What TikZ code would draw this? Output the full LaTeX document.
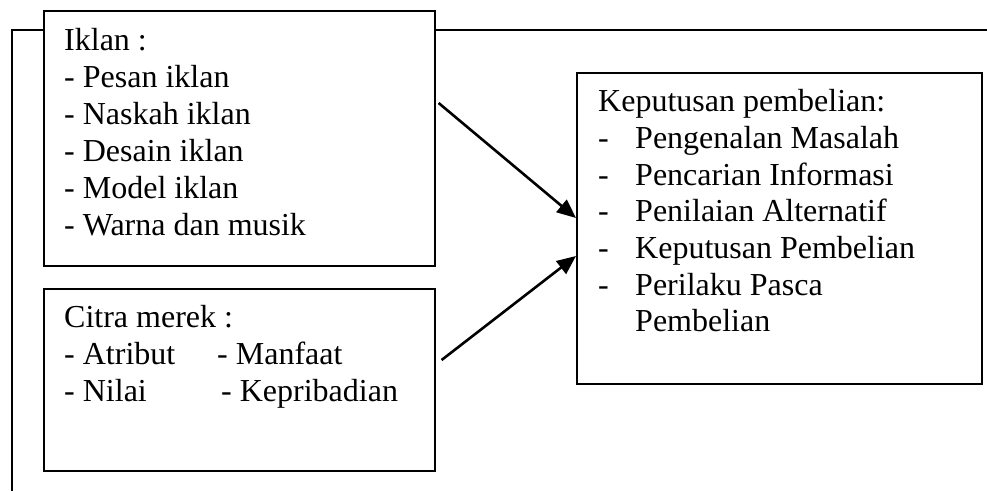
\documentclass[tikz,border=0pt]{standalone}
\usepackage{fontspec}
\setmainfont{Liberation Serif}
\usetikzlibrary{arrows.meta}
\begin{document}
\begin{tikzpicture}[x=1pt,y=-1pt,
  box/.style={draw, line width=1.6pt, inner sep=0pt, anchor=north west},
  txt/.style={anchor=base west, inner sep=0pt, font=\fontsize{32}{37}\selectfont},
  frameline/.style={line width=1.6pt},
  arr/.style={line width=2.6pt, -{Triangle[length=19pt,width=16pt]}}]
\useasboundingbox (0,0) rectangle (987,491);
% boxes
\node[box, minimum width=391pt, minimum height=255pt] (iklan) at (43,10) {};
\node[box, minimum width=391pt, minimum height=182pt] (citra) at (43,288) {};
\node[box, minimum width=405pt, minimum height=311pt] (kep) at (576,72) {};
% Iklan text
\node[txt] (i0) at (64,50) {Iklan :};
\node[txt] (i1) at (64,87) {- Pesan iklan};
\node[txt] (i2) at (64,124) {- Naskah iklan};
\node[txt] (i3) at (64,161) {- Desain iklan};
\node[txt] (i4) at (64,198) {- Model iklan};
\node[txt] (i5) at (64,235) {- Warna dan musik};
% Citra text
\node[txt] (c0) at (64,327) {Citra merek :};
\node[txt] (c1) at (64,364) {- Atribut};
\node[txt] (c2) at (217,364) {- Manfaat};
\node[txt] (c3) at (64,401) {- Nilai};
\node[txt] (c4) at (221,401) {- Kepribadian};
% Keputusan text
\node[txt] (k0) at (598,111.7) {Keputusan pembelian:};
\foreach \t [count=\i] in {Pengenalan Masalah, Pencarian Informasi, Penilaian Alternatif, Keputusan Pembelian, Perilaku Pasca}{
  \node[txt] (kd\i) at (598,{111.7+36.67*\i}) {-};
  \node[txt] (kt\i) at (635,{111.7+36.67*\i}) {\t};
}
\node[txt] (k7) at (635,331.7) {Pembelian};
% frame lines
\coordinate (fb1) at (12,491);
\coordinate (fb2) at (12,30);
\coordinate (fb3) at (987,30);
\draw[frameline] (fb1) -- (fb2) -- (fb2 -| iklan.west);
\draw[frameline] (fb3) -- (fb3 -| iklan.east);
% arrows
\coordinate (a1s) at ([xshift=3pt,yshift=-93pt]iklan.north east);
\coordinate (a1e) at ([yshift=-146pt]kep.north west);
\coordinate (a2s) at ([xshift=6pt,yshift=-72pt]citra.north east);
\coordinate (a2e) at ([yshift=-184pt]kep.north west);
\draw[arr] (a1s) -- (a1e);
\draw[arr] (a2s) -- (a2e);
\end{tikzpicture}
\end{document}
